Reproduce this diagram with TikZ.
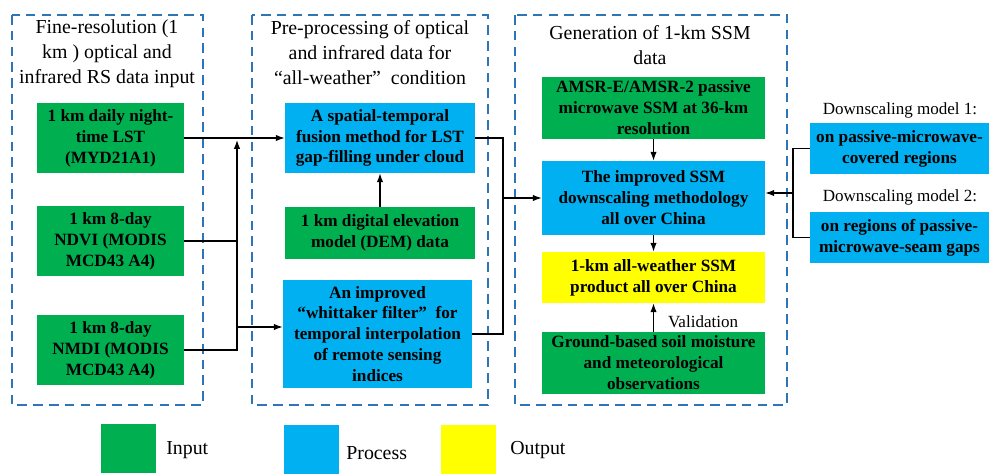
\documentclass[tikz,border=0pt]{standalone}
\usepackage{fontspec}
\setmainfont{Liberation Serif}
\usetikzlibrary{arrows.meta}
\definecolor{ingreen}{HTML}{00B050}
\definecolor{prblue}{HTML}{00B0F0}
\definecolor{outyellow}{HTML}{FFFF00}
\definecolor{grpblue}{HTML}{2E75B6}

\begin{document}
\begin{tikzpicture}[x=0.02cm,y=-0.02cm,
  box/.style={inner sep=0pt,align=center,font=\fontsize{9.8}{11.9}\selectfont\bfseries},
  inbox/.style={box,fill=ingreen},
  prbox/.style={box,fill=prblue},
  outbox/.style={box,fill=outyellow},
  grp/.style={draw=grpblue,line width=0.9pt,dash pattern=on 5.5pt off 3.5pt},
  ttl/.style={align=center,inner sep=0pt,font=\fontsize{11.3}{14.2}\selectfont},
  lbl/.style={inner sep=0pt,font=\fontsize{9.7}{11.6}\selectfont},
  ln/.style={line width=0.6pt},
  arr/.style={ln,-{Latex[length=5pt,width=3.6pt]}}]
\useasboundingbox (0,0) rectangle (989,473);

\draw[grp] (12,15) rectangle (203,405);
\draw[grp] (252,15) rectangle (488,405);
\draw[grp] (515,15) rectangle (787,405);

\node[ttl] (t1) at (107,54) {Fine-resolution (1\\km ) optical and\\infrared RS data input};
\node[ttl] (t2) at (370,53) {Pre-processing of optical\\and infrared data for\\“all-weather”\ \ condition};
\node[ttl] (t3) at (650,45) {Generation of 1-km SSM\\data};

\node[inbox,minimum width=2.94cm,minimum height=1.4cm] (lst) at (110.5,138) {1 km daily night-\\time LST\\(MYD21A1)};
\node[inbox,minimum width=2.94cm,minimum height=1.4cm] (ndvi) at (110.5,241) {1 km 8-day\\NDVI (MODIS\\MCD43 A4)};
\node[inbox,minimum width=2.94cm,minimum height=1.4cm] (nmdi) at (110.5,350) {1 km 8-day\\NMDI (MODIS\\MCD43 A4)};

\node[prbox,minimum width=3.8cm,minimum height=1.4cm] (fusion) at (380,138) {A spatial-temporal\\fusion method for LST\\gap-filling under cloud};
\node[inbox,minimum width=3.8cm,minimum height=1.04cm] (dem) at (380,233) {1 km digital elevation\\model (DEM) data};
\node[prbox,minimum width=3.78cm,minimum height=2.16cm] (whit) at (377.5,334) {An improved\\“whittaker filter”\ \ for\\temporal interpolation\\of remote sensing\\indices};

\node[inbox,minimum width=4.46cm,minimum height=1.24cm] (amsr) at (653.5,108) {AMSR-E/AMSR-2 passive\\microwave SSM at 36-km\\resolution};
\node[prbox,minimum width=4.46cm,minimum height=1.48cm] (ssm) at (653.5,198) {The improved SSM\\downscaling methodology\\all over China};
\node[outbox,minimum width=4.46cm,minimum height=1.02cm] (prod) at (653.5,277.5) {1-km all-weather SSM\\product all over China};
\node[inbox,minimum width=4.46cm,minimum height=1.24cm] (ground) at (653.5,363) {Ground-based soil moisture\\and meteorological\\observations};

\node[prbox,minimum width=3.58cm,minimum height=1.02cm] (dmone) at (899.5,148.5) {on passive-microwave-\\covered regions};
\node[prbox,minimum width=3.58cm,minimum height=1.02cm] (dmtwo) at (899.5,237.5) {on regions of passive-\\microwave-seam gaps};
\node[lbl] (dmonelbl) at (900,110) {Downscaling model 1:};
\node[lbl] (dmtwolbl) at (900,197) {Downscaling model 2:};

\coordinate (jtop) at (237,140);
\coordinate (jw) at (237,327);
\coordinate (bus) at (503,198);
\coordinate (rb) at (793,193);

\draw[arr] (lst.east) -- (fusion.west);
\draw[ln] (ndvi.east) -- (ndvi.east -| jtop);
\draw[arr] (nmdi.east) -| (jtop);
\draw[arr] (jw) -- (jw -| whit.west);
\draw[arr] (dem.north) -- (fusion.south);
\draw[ln] (fusion.east) -| (bus) |- (whit.east);
\draw[arr] (bus) -- (ssm.west);
\draw[arr] (amsr.south) -- (ssm.north);
\draw[arr] (ssm.south) -- (prod.north);
\draw[arr] (ground.north) -- (prod.south) node[lbl,right,pos=0.34,xshift=0.28cm] (val) {Validation};
\draw[ln] (dmone.west) -| (rb) |- (dmtwo.west);
\draw[arr] (rb) -- (rb -| ssm.east);

\node[fill=ingreen,minimum width=1.1cm,minimum height=0.98cm,inner sep=0pt] (kin) at (128.5,448.5) {};
\node[fill=prblue,minimum width=1.1cm,minimum height=0.98cm,inner sep=0pt] (kpr) at (311.5,449) {};
\node[fill=outyellow,minimum width=1.1cm,minimum height=0.98cm,inner sep=0pt] (kout) at (468.5,449) {};
\node[ttl,anchor=west] (kinlbl) at (166,450) {Input};
\node[ttl,anchor=west] (kprlbl) at (346,453) {Process};
\node[ttl,anchor=west] (koutlbl) at (510,450) {Output};
\end{tikzpicture}
\end{document}
